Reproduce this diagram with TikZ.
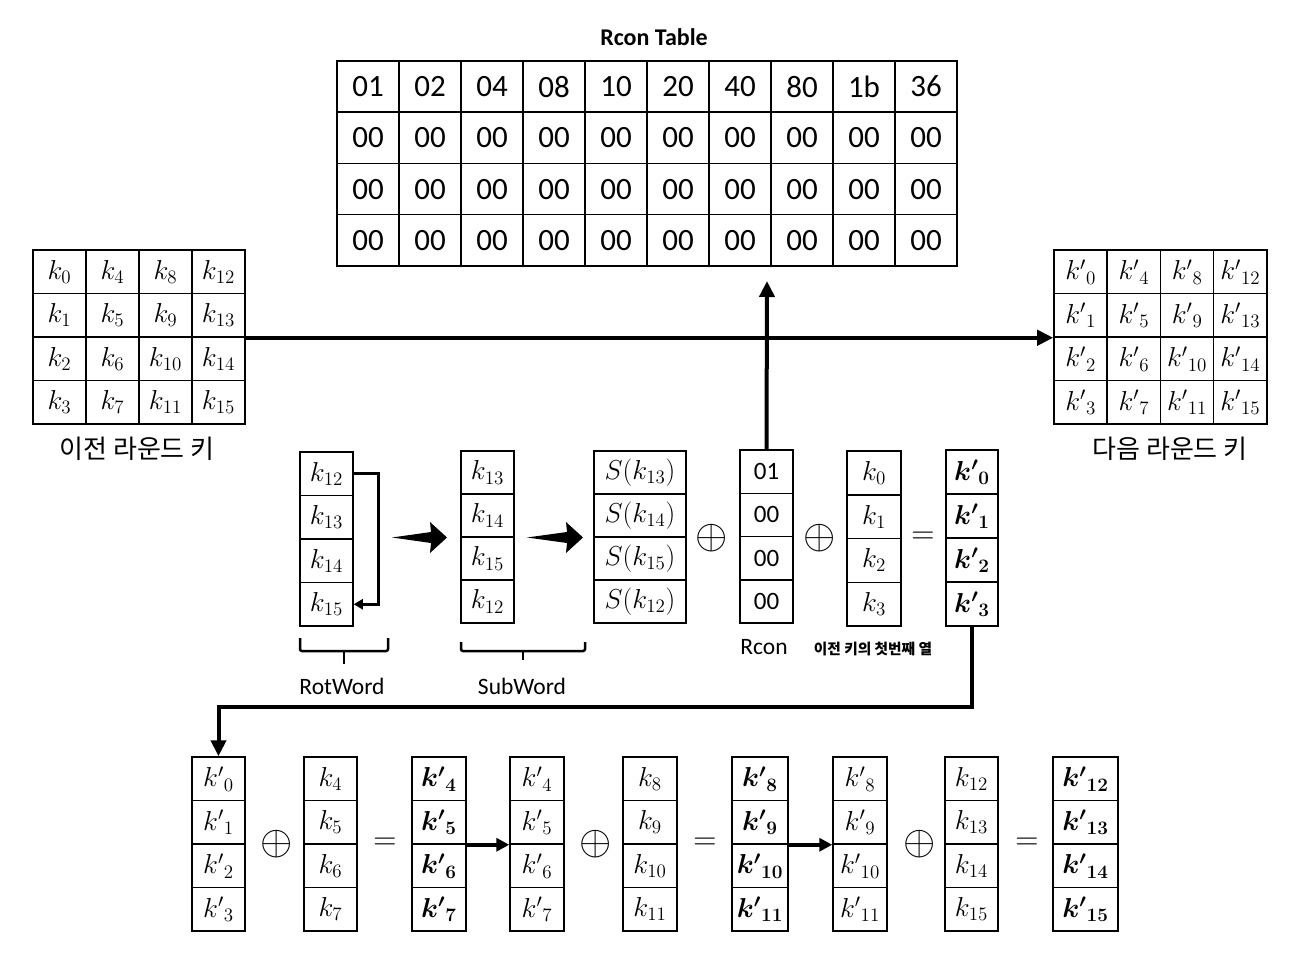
\documentclass[tikz,border=0pt]{standalone}
\usepackage{amsmath,amssymb,bm,graphicx}
\usepackage[no-math]{fontspec}
\setmainfont{Carlito}
\newfontfamily\kr{Noto Sans CJK KR}
\usetikzlibrary{arrows.meta,calc}
\newcommand\kp[1]{{k'}_{#1}}
\newcommand\kb[1]{\bm{{k'}_{#1}}}
\newcommand\mth[1]{\scalebox{1.32}{$#1$}}
\newcommand\xor{\scalebox{2.0}{$\oplus$}}
\newcommand\eqsign{\scalebox{1.55}{$=$}}
\tikzset{
  cell/.style={draw, line width=1.5pt, inner sep=0pt, font=\fontsize{20.74}{25}\selectfont},
  tcell/.style={draw, line width=1.5pt, inner sep=0pt, minimum width=62pt, minimum height=51.25pt, font=\fontsize{31}{36}\selectfont},
  op/.style={inner sep=0pt, font=\fontsize{20.74}{25}\selectfont},
  lbl/.style={inner sep=0pt, font=\fontsize{23.5}{27}\selectfont},
  krlbl/.style={inner sep=0pt, font=\kr\fontsize{26}{30}\selectfont},
  arr/.style={line width=4pt, -{Triangle[length=16pt,width=15pt]}},
  arrsmall/.style={line width=4pt, -{Triangle[length=13pt,width=13pt]}},
  rotarr/.style={line width=3pt, -{Triangle[length=9pt,width=10pt]}},
  bracepath/.style={line width=2.5pt, rounded corners=2pt},
}
\newcommand\kcol[6]{%
  \foreach \t [count=\i] in {#6} {
    \node[cell, minimum width=#4pt, minimum height=#5pt] (#1-\i) at ({#2+#4/2},{#3+(\i-0.5)*#5}) {\mth{\t}};
  }%
}
\begin{document}
\begin{tikzpicture}[x=1pt,y=-1pt]
\useasboundingbox (0,0) rectangle (1295,957);
% Rcon table
\node[inner sep=0pt, font=\bfseries\fontsize{24}{28}\selectfont] (title) at (654,37) {Rcon Table};
\foreach \v [count=\c from 0] in {01,02,04,08,10,20,40,80,1b,36} {
  \node[tcell] (T-\c-0) at ({368+62*\c},{86.6}) {\v};
  \foreach \r in {1,2,3} {
    \node[tcell] (T-\c-\r) at ({368+62*\c},{86.6+51.25*\r}) {00};
  }
}
% previous and next round keys
\foreach \c in {0,...,3} {
  \foreach \r in {0,...,3} {
    \pgfmathtruncatemacro\n{4*\c+\r}
    \node[cell, minimum width=53pt, minimum height=43.5pt] (L-\c-\r) at ({59.5+53*\c},{271.75+43.5*\r}) {\mth{k_{\n}}};
    \node[cell, minimum width=53.25pt, minimum height=43.5pt] (R-\c-\r) at ({1080.6+53.25*\c},{271.75+43.5*\r}) {\mth{\kp{\n}}};
  }
}
\node[krlbl] (prevlbl) at (137,449) {이전 라운드 키};
\node[krlbl] (nextlbl) at (1170,449) {다음 라운드 키};
\draw[arr] (L-3-1.south east) -- (R-0-1.south west);
% middle row
\kcol{rw}{300}{452}{53}{43.5}{k_{12},k_{13},k_{14},k_{15}}
\kcol{sw}{461}{451}{53}{43}{k_{13},k_{14},k_{15},k_{12}}
\kcol{sb}{594}{451}{92}{43}{S(k_{13}),S(k_{14}),S(k_{15}),S(k_{12})}
\foreach \v [count=\i] in {01,00,00,00} {
  \node[cell, minimum width=53pt, minimum height=43.25pt, font=\fontsize{25}{29}\selectfont] (rc-\i) at (766.5,{450+(\i-0.5)*43.25}) {\v};
}
\kcol{kc}{847}{451}{54}{43.75}{k_0,k_1,k_2,k_3}
\kcol{kp}{946}{450}{52}{44}{\kb{0},\kb{1},\kb{2},\kb{3}}
\draw[rotarr] (rw-1.east) -- ++(25,0) |- (rw-4.east);
\fill (392,537.5) -- (431,532) -- (430,522) -- (447,537.5) -- (430,553) -- (431,543) -- cycle;
\fill (527,537.5) -- (567,532) -- (566,522) -- (583,537.5) -- (566,553) -- (567,543) -- cycle;
\node[op] (x1) at (712,538) {\xor};
\node[op] (x2) at (820,538) {\xor};
\node[op] (eq1) at (923,538) {\eqsign};
\coordinate (rcup) at (767,281);
\draw[arr] (rc-1.north) -- (rcup);
\draw[bracepath] (300,638) -- (300,651) -- (388,651) -- (388,638);
\draw[line width=2.5pt] (344,651) -- (344,664);
\draw[bracepath] (461,642) -- (461,651) -- (585,651) -- (585,642);
\draw[line width=2.5pt] (523,651) -- (523,660);
\node[lbl] (rotlbl) at (342,686) {RotWord};
\node[lbl] (sublbl) at (522,686) {SubWord};
\node[lbl] (rconlbl) at (764,647) {Rcon};
\node[inner sep=0pt, font=\kr\bfseries\fontsize{14.7}{17}\selectfont] (firstlbl) at (873,649) {이전 키의 첫번째 열};
% bottom row
\kcol{b1}{192}{757}{53}{43.5}{\kp{0},\kp{1},\kp{2},\kp{3}}
\kcol{b2}{304}{757}{53}{43.5}{k_4,k_5,k_6,k_7}
\kcol{b3}{412}{757}{54}{43.5}{\kb{4},\kb{5},\kb{6},\kb{7}}
\kcol{b4}{510}{757}{54}{43.5}{\kp{4},\kp{5},\kp{6},\kp{7}}
\kcol{b5}{623}{757}{54}{43.5}{k_8,k_9,k_{10},k_{11}}
\kcol{b6}{732}{757}{56}{43.5}{\kb{8},\kb{9},\kb{10},\kb{11}}
\kcol{b7}{833}{757}{54}{43.5}{\kp{8},\kp{9},\kp{10},\kp{11}}
\kcol{b8}{945}{757}{53}{43.5}{k_{12},k_{13},k_{14},k_{15}}
\kcol{b9}{1053}{757}{65}{43.5}{\kb{12},\kb{13},\kb{14},\kb{15}}
\node[op] (x3) at (277,844) {\xor};
\node[op] (eq2) at (385,844) {\eqsign};
\node[op] (x4) at (596,844) {\xor};
\node[op] (eq3) at (705,844) {\eqsign};
\node[op] (x5) at (920,844) {\xor};
\node[op] (eq4) at (1027,844) {\eqsign};
\draw[arrsmall] (b3-2.south east) -- (b4-2.south west);
\draw[arrsmall] (b6-2.south east) -- (b7-2.south west);
\draw[arr] (kp-4.south) -- ++(0,80) -| (b1-1.north);
\end{tikzpicture}
\end{document}
